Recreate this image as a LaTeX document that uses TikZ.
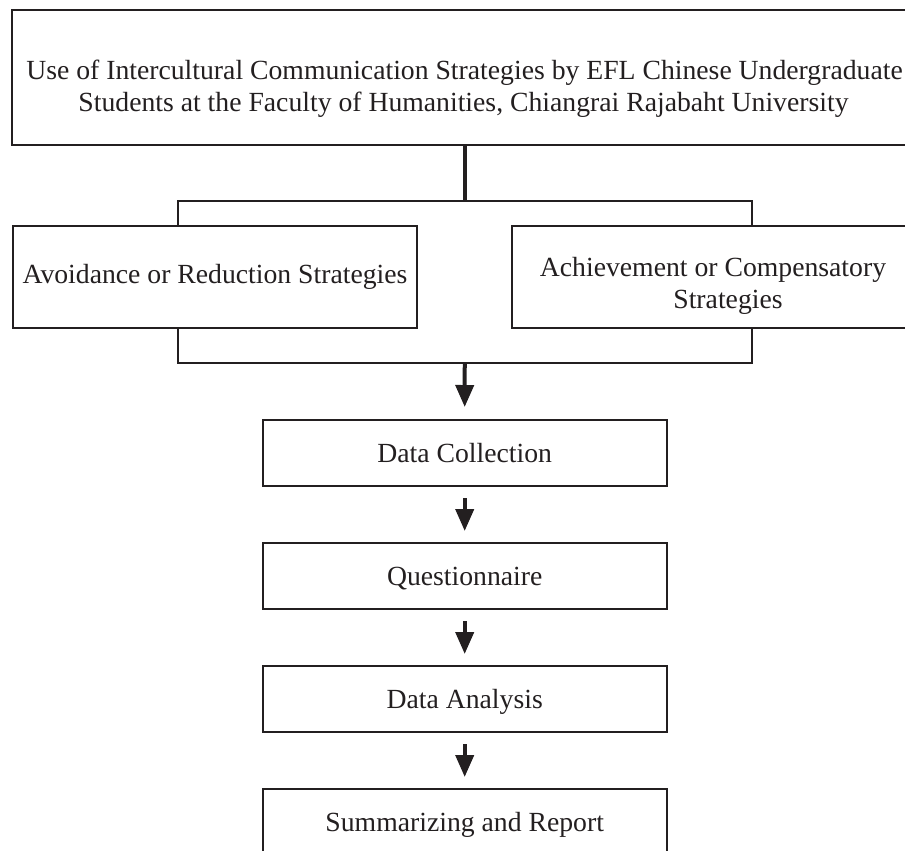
\documentclass[tikz,border=0pt]{standalone}
\usepackage{fontspec}
\setmainfont{Liberation Serif}
\usetikzlibrary{arrows.meta}
\definecolor{ink}{RGB}{35,31,32}
\begin{document}
\begin{tikzpicture}[x=1pt,y=-1pt,
  box/.style={draw=ink, line width=2pt, inner sep=0pt},
  stepbox/.style={box, minimum width=404pt, minimum height=66pt,
    font=\fontsize{27.7}{32}\selectfont, text=ink, text height=19pt, text depth=0pt},
  lbl/.style={anchor=base, inner sep=0pt, font=\fontsize{27.7}{32}\selectfont, text=ink},
  link/.style={draw=ink, line width=2pt},
  trunk/.style={draw=ink, line width=3.5pt},
  flow/.style={draw=ink, line width=4pt, -{Triangle[width=18pt,length=22pt]}},
]
\useasboundingbox (0,0) rectangle (905,851);
\clip (0,0) rectangle (905,851);

% title box
\node[box, minimum width=906.5pt, minimum height=135pt] (title) at (464.75,77.5) {};
\node[lbl] (t1) at (464.5,79) {Use of Intercultural Communication Strategies by EFL Chinese Undergraduate};
\node[lbl] (t2) at (463.5,111) {Students at the Faculty of Humanities, Chiangrai Rajabaht University};

% the two strategy boxes
\node[box, minimum width=403.7pt, minimum height=102pt] (left) at (215.15,277) {};
\node[lbl] (lt) at (215,283) {Avoidance or Reduction Strategies};
\node[box, minimum width=402pt, minimum height=102pt] (right) at (713,277) {};
\node[lbl] (r1) at (713,276) {Achievement or Compensatory};
\node[lbl] (r2) at (728,308) {Strategies};

% junction points of the brackets
\coordinate (jt) at (464.75,201);
\coordinate (jb) at (464.75,363);
\coordinate (bl) at (178.3,201);
\coordinate (br) at (751.7,201);

% process steps
\node[stepbox] (dc) at (464.7,453) {Data Collection};
\node[stepbox] (q)  at (464.7,576) {Questionnaire};
\node[stepbox] (da) at (464.7,699) {Data Analysis};
\node[stepbox] (sr) at (464.7,822) {Summarizing and Report};

% connectors
\draw[trunk] (title.south) -- (jt);
\draw[link] (bl |- left.north) -- (bl) -- (br) -- (br |- right.north);
\draw[link] (bl |- left.south) -- (bl |- jb) -- (br |- jb) -- (br |- right.south);
\draw[flow] (jb) -- ([yshift=12pt]dc.north);
\draw[flow] ([yshift=-11pt]dc.south) -- ([yshift=11pt]q.north);
\draw[flow] ([yshift=-11pt]q.south) -- ([yshift=11pt]da.north);
\draw[flow] ([yshift=-11pt]da.south) -- ([yshift=11pt]sr.north);
\end{tikzpicture}
\end{document}
